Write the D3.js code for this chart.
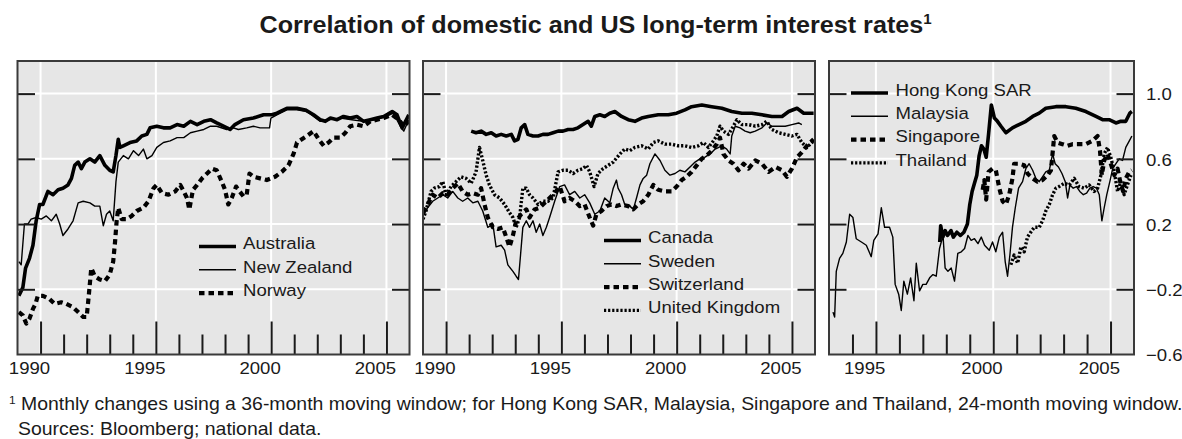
<!DOCTYPE html>
<html><head><meta charset="utf-8">
<script src="https://cdn.jsdelivr.net/npm/d3@7"></script>
<style>
body{margin:0;background:#fff;}
text{font-family:"Liberation Sans",Arial,sans-serif;fill:#1a1a1a;}
</style>
</head><body>
<svg id="chart" width="1182" height="439"></svg>
<script>
// ---------------- data (decimal years, correlation) ----------------
const australia = [[1990.06,-0.24],[1990.23,-0.19],[1990.35,-0.07],[1990.52,-0.01],[1990.67,0.07],[1990.81,0.22],[1990.96,0.32],[1991.1,0.32],[1991.32,0.40],[1991.54,0.38],[1991.76,0.41],[1991.97,0.42],[1992.19,0.44],[1992.34,0.48],[1992.48,0.56],[1992.63,0.58],[1992.77,0.54],[1992.92,0.58],[1993.14,0.60],[1993.35,0.58],[1993.57,0.62],[1993.79,0.56],[1994.0,0.53],[1994.15,0.52],[1994.27,0.62],[1994.37,0.72],[1994.44,0.67],[1994.59,0.68],[1994.88,0.70],[1995.17,0.71],[1995.39,0.74],[1995.61,0.75],[1995.75,0.79],[1996.04,0.80],[1996.33,0.79],[1996.62,0.79],[1996.92,0.81],[1997.21,0.80],[1997.5,0.83],[1997.79,0.81],[1998.08,0.83],[1998.37,0.84],[1998.64,0.82],[1998.93,0.80],[1999.22,0.78],[1999.43,0.81],[1999.8,0.84],[2000.23,0.85],[2000.67,0.87],[2001.03,0.87],[2001.25,0.88],[2001.68,0.91],[2002.12,0.91],[2002.48,0.90],[2002.84,0.87],[2003.13,0.84],[2003.35,0.83],[2003.57,0.85],[2003.86,0.84],[2004.14,0.86],[2004.43,0.85],[2004.72,0.86],[2005.01,0.83],[2005.3,0.84],[2005.59,0.85],[2005.88,0.86],[2006.25,0.89],[2006.46,0.87],[2006.68,0.79],[2006.9,0.85],[2006.97,0.87]];
const newZealand = [[1990.06,-0.03],[1990.16,-0.05],[1990.3,0.20],[1990.45,0.20],[1990.59,0.23],[1990.81,0.24],[1991.03,0.23],[1991.25,0.25],[1991.47,0.22],[1991.68,0.26],[1991.83,0.20],[1991.97,0.13],[1992.19,0.17],[1992.41,0.22],[1992.63,0.33],[1992.85,0.34],[1993.14,0.33],[1993.35,0.31],[1993.57,0.31],[1993.72,0.19],[1993.86,0.26],[1994.0,0.28],[1994.15,0.22],[1994.27,0.46],[1994.37,0.58],[1994.59,0.62],[1994.81,0.60],[1995.03,0.65],[1995.25,0.62],[1995.46,0.66],[1995.61,0.60],[1995.83,0.62],[1996.04,0.67],[1996.33,0.70],[1996.62,0.71],[1996.92,0.73],[1997.21,0.73],[1997.5,0.76],[1997.79,0.77],[1998.08,0.78],[1998.37,0.80],[1998.64,0.80],[1999.07,0.78],[1999.36,0.79],[1999.58,0.78],[1999.94,0.79],[2000.23,0.80],[2000.52,0.79],[2000.93,0.79],[2000.99,0.85],[2001.25,0.87],[2001.68,0.90],[2002.12,0.90],[2002.55,0.89],[2002.84,0.86],[2003.13,0.83],[2003.5,0.84],[2004.0,0.85],[2004.5,0.84],[2005.0,0.83],[2005.5,0.84],[2006.0,0.86],[2006.3,0.88],[2006.6,0.80],[2006.75,0.77],[2006.97,0.84]];
const norway = [[1990.06,-0.34],[1990.23,-0.36],[1990.38,-0.41],[1990.52,-0.38],[1990.67,-0.32],[1990.78,-0.29],[1990.88,-0.24],[1991.1,-0.24],[1991.39,-0.26],[1991.61,-0.29],[1991.9,-0.28],[1992.12,-0.29],[1992.41,-0.31],[1992.63,-0.34],[1992.85,-0.37],[1993.0,-0.37],[1993.09,-0.24],[1993.2,-0.07],[1993.35,-0.12],[1993.57,-0.14],[1993.79,-0.15],[1994.0,-0.11],[1994.15,-0.03],[1994.23,0.09],[1994.3,0.22],[1994.37,0.30],[1994.52,0.23],[1994.73,0.23],[1994.95,0.25],[1995.17,0.28],[1995.46,0.30],[1995.68,0.34],[1995.9,0.42],[1996.04,0.44],[1996.26,0.39],[1996.55,0.38],[1996.84,0.40],[1997.06,0.44],[1997.21,0.40],[1997.35,0.36],[1997.45,0.29],[1997.61,0.41],[1997.79,0.44],[1998.0,0.48],[1998.22,0.51],[1998.44,0.54],[1998.64,0.53],[1998.86,0.46],[1999.0,0.41],[1999.14,0.32],[1999.29,0.36],[1999.48,0.43],[1999.58,0.41],[1999.8,0.37],[1999.94,0.38],[2000.06,0.51],[2000.23,0.49],[2000.52,0.48],[2000.81,0.47],[2001.17,0.49],[2001.46,0.52],[2001.75,0.56],[2001.97,0.63],[2002.12,0.70],[2002.33,0.72],[2002.55,0.74],[2002.84,0.77],[2003.06,0.72],[2003.28,0.68],[2003.49,0.70],[2003.71,0.73],[2004.0,0.73],[2004.22,0.76],[2004.43,0.80],[2004.72,0.81],[2005.01,0.80],[2005.3,0.83],[2005.59,0.84],[2005.88,0.85],[2006.25,0.87],[2006.54,0.84],[2006.75,0.80],[2006.97,0.83]];

const canada = [[1992.09,0.77],[1992.3,0.76],[1992.52,0.77],[1992.74,0.75],[1992.96,0.76],[1993.17,0.74],[1993.39,0.75],[1993.61,0.74],[1993.83,0.75],[1993.97,0.71],[1994.12,0.72],[1994.26,0.79],[1994.41,0.81],[1994.55,0.75],[1994.77,0.74],[1994.99,0.74],[1995.2,0.75],[1995.42,0.75],[1995.64,0.76],[1995.86,0.77],[1996.07,0.77],[1996.29,0.78],[1996.51,0.78],[1996.72,0.79],[1996.94,0.81],[1997.16,0.83],[1997.3,0.80],[1997.45,0.86],[1997.67,0.87],[1997.88,0.86],[1998.1,0.88],[1998.32,0.89],[1998.61,0.86],[1998.9,0.84],[1999.19,0.83],[1999.48,0.85],[1999.77,0.86],[2000.2,0.87],[2000.64,0.87],[2001.0,0.88],[2001.36,0.90],[2001.65,0.92],[2002.09,0.93],[2002.52,0.92],[2002.96,0.91],[2003.39,0.89],[2003.83,0.88],[2004.26,0.88],[2004.7,0.87],[2005.13,0.86],[2005.57,0.86],[2005.86,0.89],[2006.22,0.91],[2006.51,0.88],[2006.94,0.88]];
const sweden = [[1990.0,0.25],[1990.2,0.30],[1990.42,0.34],[1990.64,0.36],[1990.86,0.38],[1991.07,0.36],[1991.29,0.40],[1991.51,0.36],[1991.72,0.34],[1991.94,0.36],[1992.16,0.33],[1992.38,0.34],[1992.59,0.28],[1992.81,0.18],[1993.03,0.20],[1993.17,0.06],[1993.39,0.07],[1993.54,0.04],[1993.68,-0.05],[1993.9,-0.09],[1994.04,-0.12],[1994.14,-0.14],[1994.23,0.01],[1994.33,0.18],[1994.48,0.22],[1994.62,0.18],[1994.77,0.22],[1994.91,0.15],[1995.06,0.20],[1995.2,0.13],[1995.35,0.18],[1995.49,0.24],[1995.71,0.34],[1995.93,0.43],[1996.14,0.44],[1996.36,0.38],[1996.58,0.40],[1996.8,0.36],[1997.01,0.38],[1997.23,0.33],[1997.45,0.26],[1997.67,0.28],[1997.88,0.36],[1998.1,0.33],[1998.25,0.42],[1998.39,0.47],[1998.46,0.42],[1998.61,0.38],[1998.75,0.32],[1998.97,0.31],[1999.12,0.29],[1999.26,0.36],[1999.41,0.44],[1999.55,0.48],[1999.7,0.50],[1999.84,0.57],[2000.06,0.63],[2000.28,0.59],[2000.49,0.53],[2000.71,0.50],[2000.93,0.51],[2001.14,0.53],[2001.36,0.52],[2001.58,0.55],[2001.8,0.58],[2002.01,0.60],[2002.23,0.61],[2002.45,0.63],[2002.67,0.66],[2002.96,0.68],[2003.17,0.66],[2003.32,0.63],[2003.39,0.74],[2003.54,0.80],[2003.75,0.79],[2003.97,0.77],[2004.19,0.76],[2004.41,0.77],[2004.7,0.79],[2004.91,0.82],[2005.13,0.80],[2005.42,0.80],[2005.71,0.80],[2006.0,0.81],[2006.29,0.82],[2006.43,0.81]];
const switzerland = [[1990.0,0.27],[1990.2,0.32],[1990.42,0.38],[1990.64,0.36],[1990.86,0.39],[1991.07,0.38],[1991.29,0.42],[1991.51,0.45],[1991.72,0.40],[1991.94,0.38],[1992.16,0.39],[1992.38,0.38],[1992.52,0.42],[1992.67,0.32],[1992.81,0.24],[1993.03,0.18],[1993.25,0.17],[1993.46,0.18],[1993.61,0.12],[1993.75,0.06],[1993.9,0.13],[1994.04,0.22],[1994.26,0.26],[1994.48,0.29],[1994.62,0.24],[1994.84,0.29],[1995.06,0.30],[1995.28,0.33],[1995.49,0.36],[1995.71,0.39],[1995.93,0.43],[1996.14,0.34],[1996.36,0.36],[1996.58,0.34],[1996.8,0.31],[1997.01,0.32],[1997.23,0.24],[1997.38,0.19],[1997.52,0.26],[1997.74,0.28],[1997.96,0.31],[1998.17,0.32],[1998.39,0.31],[1998.61,0.32],[1998.9,0.31],[1999.12,0.29],[1999.33,0.32],[1999.55,0.34],[1999.77,0.38],[1999.99,0.44],[2000.2,0.41],[2000.49,0.40],[2000.78,0.40],[2001.0,0.43],[2001.22,0.47],[2001.43,0.49],[2001.65,0.52],[2001.87,0.56],[2002.09,0.60],[2002.3,0.62],[2002.52,0.65],[2002.74,0.69],[2002.88,0.73],[2003.03,0.63],[2003.25,0.59],[2003.46,0.57],[2003.68,0.53],[2003.9,0.57],[2004.12,0.54],[2004.41,0.59],[2004.7,0.57],[2004.99,0.52],[2005.28,0.55],[2005.57,0.53],[2005.78,0.49],[2006.0,0.54],[2006.22,0.61],[2006.43,0.64],[2006.65,0.68],[2006.94,0.72]];
const unitedKingdom = [[1990.0,0.23],[1990.13,0.28],[1990.35,0.40],[1990.49,0.42],[1990.71,0.43],[1990.86,0.46],[1991.0,0.38],[1991.22,0.43],[1991.43,0.46],[1991.65,0.49],[1991.87,0.48],[1992.09,0.45],[1992.3,0.52],[1992.45,0.67],[1992.59,0.59],[1992.74,0.50],[1992.88,0.44],[1993.1,0.38],[1993.32,0.36],[1993.54,0.32],[1993.75,0.27],[1993.9,0.24],[1994.04,0.18],[1994.19,0.24],[1994.33,0.42],[1994.48,0.42],[1994.62,0.38],[1994.77,0.36],[1994.99,0.32],[1995.2,0.34],[1995.42,0.34],[1995.64,0.36],[1995.86,0.52],[1996.07,0.53],[1996.29,0.53],[1996.51,0.51],[1996.72,0.53],[1996.94,0.54],[1997.09,0.56],[1997.23,0.52],[1997.42,0.43],[1997.59,0.51],[1997.81,0.54],[1998.03,0.56],[1998.25,0.58],[1998.54,0.63],[1998.75,0.66],[1998.97,0.65],[1999.19,0.67],[1999.48,0.68],[1999.77,0.66],[1999.99,0.70],[2000.2,0.71],[2000.49,0.69],[2000.78,0.69],[2001.07,0.68],[2001.36,0.68],[2001.65,0.67],[2001.94,0.68],[2002.16,0.70],[2002.38,0.67],[2002.59,0.71],[2002.74,0.74],[2002.88,0.80],[2003.03,0.77],[2003.25,0.75],[2003.46,0.80],[2003.61,0.84],[2003.83,0.81],[2004.12,0.81],[2004.41,0.80],[2004.7,0.81],[2004.91,0.83],[2005.13,0.78],[2005.42,0.76],[2005.71,0.75],[2006.0,0.74],[2006.22,0.75],[2006.43,0.70],[2006.65,0.67],[2006.94,0.71]];

const hongKong = [[1998.72,0.09],[1998.76,0.19],[1998.85,0.12],[1998.95,0.16],[1999.05,0.13],[1999.2,0.16],[1999.3,0.12],[1999.45,0.15],[1999.6,0.13],[1999.75,0.15],[1999.9,0.20],[2000.0,0.32],[2000.1,0.40],[2000.2,0.45],[2000.3,0.50],[2000.4,0.62],[2000.5,0.68],[2000.6,0.66],[2000.7,0.61],[2000.8,0.75],[2000.92,0.93],[2001.05,0.85],[2001.18,0.83],[2001.33,0.80],[2001.54,0.76],[2001.82,0.79],[2002.1,0.81],[2002.39,0.83],[2002.68,0.86],[2002.96,0.88],[2003.24,0.91],[2003.67,0.92],[2004.1,0.92],[2004.52,0.91],[2004.95,0.89],[2005.38,0.86],[2005.66,0.84],[2005.94,0.84],[2006.23,0.82],[2006.44,0.83],[2006.65,0.83],[2006.82,0.88],[2006.91,0.89]];
const malaysia = [[1994.17,-0.34],[1994.24,-0.37],[1994.31,-0.09],[1994.45,-0.01],[1994.59,0.02],[1994.74,0.09],[1994.88,0.26],[1995.02,0.24],[1995.16,0.11],[1995.38,0.09],[1995.59,0.07],[1995.8,0.00],[1995.91,0.10],[1996.09,0.14],[1996.23,0.30],[1996.37,0.18],[1996.58,0.18],[1996.72,0.12],[1996.82,-0.17],[1996.97,-0.23],[1997.08,-0.33],[1997.19,-0.15],[1997.34,-0.23],[1997.48,-0.13],[1997.62,-0.27],[1997.72,-0.04],[1997.86,-0.21],[1998.0,-0.17],[1998.14,-0.17],[1998.29,-0.13],[1998.43,-0.11],[1998.57,-0.12],[1998.71,0.05],[1998.86,0.13],[1998.95,-0.07],[1999.07,-0.09],[1999.21,-0.07],[1999.35,-0.15],[1999.49,0.02],[1999.64,0.03],[1999.78,0.05],[1999.92,0.13],[2000.06,0.10],[2000.2,0.11],[2000.35,0.08],[2000.49,0.12],[2000.63,0.07],[2000.83,0.04],[2000.97,0.09],[2001.11,0.03],[2001.26,0.12],[2001.4,0.15],[2001.51,-0.03],[2001.61,-0.12],[2001.71,0.01],[2001.82,0.18],[2001.94,0.30],[2002.08,0.42],[2002.25,0.46],[2002.39,0.54],[2002.53,0.57],[2002.68,0.53],[2002.82,0.48],[2002.96,0.46],[2003.1,0.49],[2003.24,0.52],[2003.39,0.53],[2003.53,0.63],[2003.64,0.57],[2003.78,0.55],[2003.93,0.51],[2004.07,0.46],[2004.17,0.36],[2004.27,0.44],[2004.41,0.42],[2004.55,0.43],[2004.69,0.40],[2004.84,0.38],[2004.98,0.39],[2005.12,0.42],[2005.26,0.43],[2005.4,0.42],[2005.52,0.38],[2005.63,0.22],[2005.73,0.30],[2005.84,0.38],[2005.97,0.46],[2006.09,0.54],[2006.23,0.57],[2006.37,0.60],[2006.51,0.59],[2006.65,0.67],[2006.8,0.71],[2006.91,0.74]];
const singapore = [[2000.55,0.41],[2000.62,0.47],[2000.7,0.35],[2000.8,0.52],[2000.97,0.54],[2001.11,0.53],[2001.26,0.42],[2001.4,0.34],[2001.54,0.32],[2001.68,0.38],[2001.82,0.48],[2001.89,0.57],[2002.1,0.57],[2002.32,0.56],[2002.46,0.51],[2002.68,0.48],[2002.89,0.46],[2003.1,0.47],[2003.32,0.50],[2003.46,0.53],[2003.6,0.74],[2003.74,0.70],[2003.95,0.69],[2004.17,0.68],[2004.38,0.69],[2004.66,0.69],[2004.95,0.69],[2005.23,0.71],[2005.45,0.74],[2005.55,0.65],[2005.63,0.50],[2005.73,0.59],[2005.87,0.63],[2006.01,0.57],[2006.16,0.50],[2006.3,0.54],[2006.44,0.44],[2006.54,0.40],[2006.65,0.48],[2006.8,0.52],[2006.91,0.53]];
const thailand = [[2001.75,-0.05],[2001.89,0.01],[2002.04,-0.04],[2002.18,0.06],[2002.32,0.03],[2002.46,0.12],[2002.6,0.15],[2002.75,0.18],[2002.96,0.18],[2003.1,0.22],[2003.24,0.28],[2003.39,0.32],[2003.53,0.38],[2003.67,0.42],[2003.81,0.43],[2004.03,0.45],[2004.24,0.44],[2004.45,0.48],[2004.66,0.43],[2004.88,0.42],[2005.09,0.44],[2005.3,0.40],[2005.45,0.42],[2005.59,0.50],[2005.73,0.63],[2005.87,0.67],[2006.01,0.61],[2006.16,0.52],[2006.3,0.40],[2006.44,0.46],[2006.58,0.38],[2006.72,0.44],[2006.87,0.50]];

const yGridValues = [1.0, 0.6, 0.2, -0.2];
const yLabelValues = [1.0, 0.6, 0.2, -0.2, -0.6];
const yearLabelsLong = [1990, 1995, 2000, 2005];
const yearLabelsShort = [1995, 2000, 2005];
const titleText = "Correlation of domestic and US long-term interest rates";
const footnoteText = "Monthly changes using a 36-month moving window; for Hong Kong SAR, Malaysia, Singapore and Thailand, 24-month moving window.";
const sourcesText = "Sources: Bloomberg; national data.";

// ---------------- layout ----------------
const svg = d3.select("#chart");
const SX = 1.08; // horizontal stretch of the original lettering
const FS = 17.2;
const yTop = 61, yBottom = 354.5;
const y = d3.scaleLinear().domain([-0.6, 1.2]).range([yBottom, yTop]);

const styles = {
  thick: {w: 3.6, da: null},
  thin:  {w: 1.4, da: null},
  dash:  {w: 4.2, da: "5.5,4"},
  dot:   {w: 3.4, da: "2.2,1.9"}
};

const panels = [
  {x0: 17.5, x1: 409.5, domain: [1990, 2007], labels: yearLabelsLong,
   series: [["Australia", australia, "thick"], ["New Zealand", newZealand, "thin"], ["Norway", norway, "dash"]],
   legend: {lx: 199, tx: 243, y0: 243}},
  {x0: 423, x1: 815, domain: [1990, 2007], labels: yearLabelsLong,
   series: [["Canada", canada, "thick"], ["Sweden", sweden, "thin"], ["Switzerland", switzerland, "dash"], ["United Kingdom", unitedKingdom, "dot"]],
   legend: {lx: 604, tx: 648, y0: 237}},
  {x0: 829, x1: 1134, domain: [1994, 2007], labels: yearLabelsShort,
   series: [["Hong Kong SAR", hongKong, "thick"], ["Malaysia", malaysia, "thin"], ["Singapore", singapore, "dash"], ["Thailand", thailand, "dot"]],
   legend: {lx: 851, tx: 895.5, y0: 89.5}, rightLabels: true}
];

panels.forEach((p, i) => {
  const x = d3.scaleLinear().domain(p.domain).range([p.x0, p.x1]);
  const g = svg.append("g");
  const years = d3.range(p.domain[0] + 1, p.domain[1]);
  const majors = years.filter(yr => p.labels.includes(yr - 1));
  const minors = years.filter(yr => !p.labels.includes(yr - 1));

  g.append("rect").attr("x", p.x0).attr("y", yTop).attr("width", p.x1 - p.x0).attr("height", yBottom - yTop)
    .attr("fill", "#e6e6e6");

  // gridlines
  g.append("g").selectAll("line").data(yGridValues).join("line")
    .attr("x1", p.x0).attr("x2", p.x1).attr("y1", d => y(d)).attr("y2", d => y(d))
    .attr("stroke", "#fff").attr("stroke-width", 2);
  g.append("g").selectAll("line").data(majors).join("line")
    .attr("x1", d => x(d)).attr("x2", d => x(d)).attr("y1", yTop).attr("y2", yBottom)
    .attr("stroke", "#fff").attr("stroke-width", 2);

  // series
  const clipId = "clip" + i;
  svg.append("clipPath").attr("id", clipId).append("rect")
    .attr("x", p.x0).attr("y", yTop).attr("width", p.x1 - p.x0).attr("height", yBottom - yTop);
  const line = d3.line().x(d => x(d[0])).y(d => y(d[1]));
  const lg = g.append("g").attr("clip-path", `url(#${clipId})`);
  p.series.slice().reverse().forEach(([name, data, st]) => {
    const s = styles[st];
    lg.append("path").datum(data).attr("d", line)
      .attr("fill", "none").attr("stroke", "#000").attr("stroke-width", s.w)
      .attr("stroke-linejoin", "round")
      .attr("stroke-dasharray", s.da);
  });

  // tick marks via axes
  const tickStyle = a => {
    a.select(".domain").remove();
    a.selectAll(".tick line").attr("stroke", "#1a1a1a").attr("stroke-width", 2);
  };
  g.append("g").attr("transform", `translate(0,${yBottom})`)
    .call(d3.axisBottom(x).tickValues(majors).tickSize(-33).tickFormat("")).call(tickStyle);
  g.append("g").attr("transform", `translate(0,${yBottom})`)
    .call(d3.axisBottom(x).tickValues(minors).tickSize(-20).tickFormat("")).call(tickStyle);
  g.append("g").attr("transform", `translate(${p.x0},0)`)
    .call(d3.axisLeft(y).tickValues(yGridValues).tickSize(-17.5).tickFormat("")).call(tickStyle);
  g.append("g").attr("transform", `translate(${p.x1},0)`)
    .call(d3.axisRight(y).tickValues(yGridValues).tickSize(-17.5).tickFormat("")).call(tickStyle);

  // border
  g.append("rect").attr("x", p.x0).attr("y", yTop).attr("width", p.x1 - p.x0).attr("height", yBottom - yTop)
    .attr("fill", "none").attr("stroke", "#3a3a3a").attr("stroke-width", 2);

  // year labels (centred on the labelled year)
  const xl = g.append("g").attr("transform", `translate(0,${yBottom})`)
    .call(d3.axisBottom(x).tickValues(p.labels.map(d => d + 0.5)).tickSize(0).tickPadding(0)
      .tickFormat(d => String(Math.floor(d))));
  xl.select(".domain").remove();
  xl.selectAll("text").attr("y", 0).attr("dy", 0).attr("font-size", FS)
    .style("font-family", '"Liberation Sans",Arial,sans-serif').attr("fill", "#1a1a1a")
    .attr("transform", `translate(0,19) scale(${SX},1)`);

  if (p.rightLabels) {
    const yr = g.append("g").attr("transform", `translate(${p.x1},0)`)
      .call(d3.axisRight(y).tickValues(yLabelValues).tickSize(0).tickPadding(0).tickFormat(d3.format(".1f")));
    yr.select(".domain").remove();
    yr.selectAll("text").attr("x", 0).attr("dy", "0.36em").attr("font-size", FS)
      .style("font-family", '"Liberation Sans",Arial,sans-serif').attr("fill", "#1a1a1a")
      .attr("transform", `translate(12,0) scale(${SX},1)`);
  }

  // legend
  const L = g.append("g");
  p.series.forEach(([name, data, st], k) => {
    const cy = p.legend.y0 + k * 23.3;
    const s = styles[st];
    L.append("line").attr("x1", p.legend.lx).attr("x2", p.legend.lx + 37)
      .attr("y1", cy + 3.5).attr("y2", cy + 3.5)
      .attr("stroke", "#000").attr("stroke-width", s.w).attr("stroke-dasharray", s.da);
    L.append("text").attr("font-size", FS)
      .attr("transform", `translate(${p.legend.tx},${cy + 6.2}) scale(${SX},1)`)
      .text(name);
  });
});

// title
const title = svg.append("text").attr("font-size", 23.3).attr("font-weight", "bold")
  .attr("transform", `translate(259.5,33) scale(${SX},1)`);
title.append("tspan").text(titleText);
title.append("tspan").attr("font-size", 14).attr("dy", -9).text("1");

// footnotes
const fn = svg.append("text").attr("font-size", 18)
  .attr("transform", `translate(9,409.5) scale(${SX},1)`);
fn.append("tspan").attr("font-size", 11).attr("dy", -6).text("1");
fn.append("tspan").attr("dy", 6).text(" " + footnoteText);
svg.append("text").attr("font-size", 18)
  .attr("transform", `translate(18,434.5) scale(${SX},1)`).text(sourcesText);
</script>
</body></html>
